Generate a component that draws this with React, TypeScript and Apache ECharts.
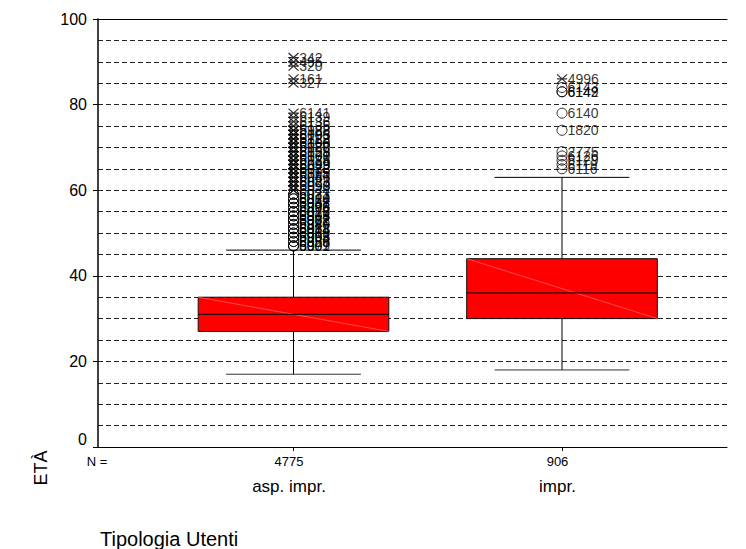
import React, { useEffect, useRef } from 'react';
import * as echarts from 'echarts';

const FONT = "'Liberation Sans', Arial, Helvetica, sans-serif";

const categories = ['asp. impr.', 'impr.'];
const caseCounts = ['4775', '906'];
const categoryPositions = [1, 2];

// five-number summary per group
const boxMin = [17, 18];
const boxQ1 = [27, 30];
const boxMedian = [31, 36];
const boxQ3 = [35, 44];
const boxMax = [46, 63];

const yTickValues = [0, 20, 40, 60, 80, 100];

// group 1 extremes (asterisks)
const extremes1Values = [91, 90, 89, 86, 85, 78, 77, 76, 75, 74, 73, 72, 71, 70, 69, 68, 67, 66, 65, 64, 63, 62, 61, 60,
  74, 73, 72, 71, 70, 69, 68, 67, 66, 65, 64, 63, 62, 61, 60];
const extremes1Labels = ['342', '495', '320', '161', '327', '6141', '6139', '6136', '6135', '6122', '6093', '5723', '6108', '6120', '6128', '6101', '6085', '6099', '6078', '6065', '6046', '6083', '6058', '6044',
  '5988', '6105', '6112', '6096', '6087', '6059', '6070', '6124', '6049', '6033', '6115', '6061', '6027', '6090'];
// group 1 outliers (circles)
const outliers1Values = [59, 58, 57, 56, 55, 54, 53, 52, 51, 50, 49, 48, 47,
  59, 58, 57, 56, 55, 54, 53, 52, 51, 50, 49, 48, 47,
  57, 55, 53, 51, 49, 47];
const outliers1Labels = ['6031', '6020', '5991', '6008', '6017', '5974', '6002', '5986', '6011', '5969', '6004', '5958', '5977',
  '6023', '6014', '6037', '5996', '6029', '6005', '5981', '6040', '5963', '6019', '5955', '6026', '6001',
  '5948', '6016', '5972', '6034', '5993', '6009'];

// group 2
const extremes2Values = [86];
const extremes2Labels = ['4996'];
const outliers2Values = [84, 83, 83, 78, 74, 69, 68, 67, 66, 65];
const outliers2Labels = ['6143', '6142', '6149', '6140', '1820', '2775', '6126', '6129', '6119', '6116'];

const ASTERISK = 'path://M0,0L10,9M10,0L0,9M0,4.5L10,4.5';

function pts(x: number, values: number[], labels: string[]) {
  return values.map((v, i) => ({ value: [x, v], name: labels[i] }));
}

export default function App() {
  const ref = useRef<HTMLDivElement>(null);
  useEffect(() => {
    if (!ref.current) return;
    const chart = echarts.init(ref.current, null, { renderer: 'svg' });
    const xMin = 0.2719;
    const xMax = 2.6145;
    const halfBox = 0.355;
    const halfCap = 0.251;

    const boxData = categoryPositions.map((x, i) => [x, boxMin[i], boxQ1[i], boxMedian[i], boxQ3[i], boxMax[i]]);

    const markerStyle = { color: 'rgba(0,0,0,0)', borderColor: '#000', borderWidth: 1 };
    const labelStyle = {
      show: true, position: 'right', distance: 0, formatter: '{b}',
      fontSize: 14, color: '#000', fontFamily: FONT,
      textBorderWidth: 0, textBorderColor: 'transparent',
    };

    const option: any = {
      animation: false,
      backgroundColor: '#fff',
      textStyle: { fontFamily: FONT },
      grid: { left: 98, top: 19, right: 19, bottom: 102, containLabel: false },
      xAxis: [
        {
          type: 'value', min: xMin, max: xMax, position: 'bottom',
          axisLine: { show: true, onZero: false, lineStyle: { color: '#000', width: 1 } },
          axisTick: { show: true, customValues: categoryPositions, length: 4, lineStyle: { color: '#000' } },
          axisLabel: {
            customValues: categoryPositions,
            margin: 6.5,
            padding: [0, 9, 0, 0],
            formatter: (v: number) => {
              const i = Math.round(v) - 1;
              return `{n|${caseCounts[i]}}\n{c|${categories[i]}}`;
            },
            rich: {
              n: { fontSize: 13, lineHeight: 16, color: '#000', fontFamily: FONT },
              c: { fontSize: 17, lineHeight: 34, color: '#000', fontFamily: FONT },
            },
          },
          splitLine: { show: false },
        },
        {
          type: 'value', min: xMin, max: xMax, position: 'top',
          axisLine: { show: true, onZero: false, lineStyle: { color: '#000', width: 1 } },
          axisTick: { show: false },
          axisLabel: { show: false },
          splitLine: { show: false },
        },
      ],
      yAxis: [
        {
          type: 'value', min: 0, max: 100, interval: 20,
          axisLine: { show: true, onZero: false, lineStyle: { color: '#000', width: 1.5 } },
          axisTick: { show: true, length: 5, customValues: yTickValues, lineStyle: { color: '#000' } },
          axisLabel: {
            customValues: yTickValues,
            fontSize: 16, color: '#000', margin: 11, fontFamily: FONT,
            formatter: (v: number) => (v === 0 ? '{z|0}' : String(v)),
            rich: { z: { fontSize: 16, color: '#000', fontFamily: FONT, padding: [0, 0, 16, 0] } },
          },
          splitLine: { show: false },
          z: 3,
        },
        {
          type: 'value', min: 0, max: 100, interval: 5, position: 'left',
          axisLine: { show: false },
          axisTick: { show: false },
          axisLabel: { show: false },
          splitLine: { show: true, lineStyle: { type: [5, 3], color: '#222', width: 1 } },
          z: 0,
        },
      ],
      graphic: [
        { type: 'text', x: 97, y: 461.5, style: { text: 'N =', fontSize: 13, fontFamily: FONT, fill: '#000', align: 'center', verticalAlign: 'middle' } },
        { type: 'text', x: 100, y: 539, style: { text: 'Tipologia Utenti', fontSize: 20, fontFamily: FONT, fill: '#000', align: 'left', verticalAlign: 'middle' } },
        { type: 'text', x: 41, y: 468, rotation: Math.PI / 2, style: { text: 'ETÀ', fontSize: 18, fontFamily: FONT, fill: '#000', align: 'center', verticalAlign: 'middle' } },
      ],
      series: [
        {
          type: 'custom',
          xAxisIndex: 0,
          yAxisIndex: 0,
          encode: { x: 0, y: [1, 2, 3, 4, 5] },
          data: boxData,
          z: 3,
          renderItem: (_params: any, api: any) => {
            const x = api.value(0);
            const mn = api.value(1);
            const q1 = api.value(2);
            const md = api.value(3);
            const q3 = api.value(4);
            const mx = api.value(5);
            const c = (xx: number, yy: number) => api.coord([xx, yy]);
            const ls = { stroke: '#000', lineWidth: 1 };
            const tl = c(x - halfBox, q3);
            const br = c(x + halfBox, q1);
            const seg = (a: number[], b: number[], style: any) => ({
              type: 'line', shape: { x1: a[0], y1: a[1], x2: b[0], y2: b[1] }, style,
            });
            return {
              type: 'group',
              children: [
                seg(c(x, q3), c(x, mx), ls),
                seg(c(x, q1), c(x, mn), ls),
                seg(c(x - halfCap, mx), c(x + halfCap, mx), ls),
                seg(c(x - halfCap, mn), c(x + halfCap, mn), { stroke: '#333', lineWidth: 1 }),
                {
                  type: 'rect',
                  shape: { x: tl[0], y: tl[1], width: br[0] - tl[0], height: br[1] - tl[1] },
                  style: { fill: '#ff0000', stroke: '#111', lineWidth: 1 },
                },
                seg(tl, br, { stroke: 'rgba(255,140,140,0.9)', lineWidth: 0.6 }),
                seg(c(x - halfBox, md), c(x + halfBox, md), ls),
              ],
            };
          },
        },
        {
          type: 'scatter', z: 4, symbol: 'circle', symbolSize: 10,
          xAxisIndex: 0, yAxisIndex: 0,
          itemStyle: markerStyle, label: labelStyle,
          data: [...pts(1, outliers1Values, outliers1Labels), ...pts(2, outliers2Values, outliers2Labels)],
        },
        {
          type: 'scatter', z: 4, symbol: ASTERISK, symbolSize: [10, 9],
          xAxisIndex: 0, yAxisIndex: 0,
          itemStyle: { ...markerStyle, borderWidth: 1.2 }, label: labelStyle,
          data: [...pts(1, extremes1Values, extremes1Labels), ...pts(2, extremes2Values, extremes2Labels)],
        },
      ],
    };
    chart.setOption(option);
    return () => chart.dispose();
  }, []);
  return <div ref={ref} style={{ position: 'absolute', left: 0, top: 0, width: 746, height: 549 }} />;
}
